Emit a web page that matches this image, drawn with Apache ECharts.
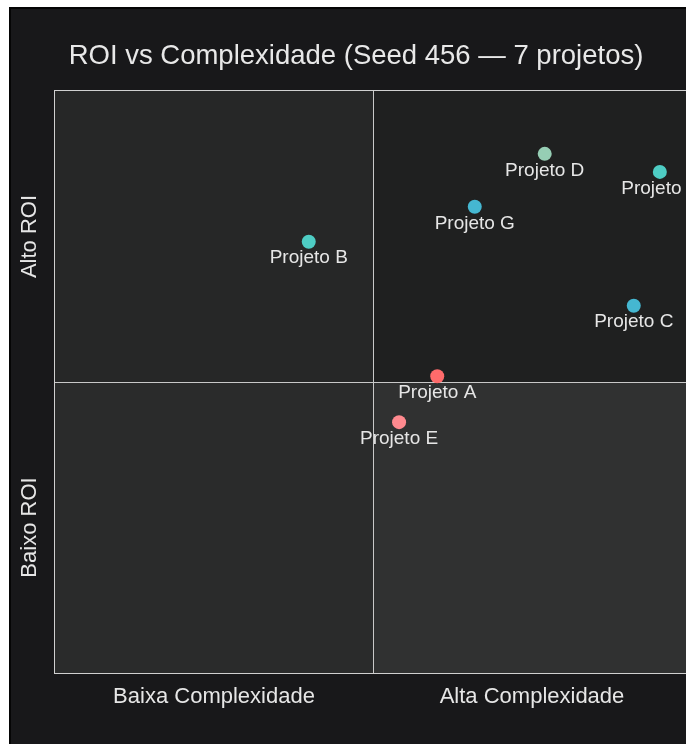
<!DOCTYPE html>
<html>
<head>
<meta charset="utf-8">
<script src="https://cdn.jsdelivr.net/npm/echarts@6/dist/echarts.min.js"></script>
<style>
  html, body { margin: 0; padding: 0; background: #fff; overflow: hidden; }
  #frame { position: absolute; left: 9px; top: 7px; width: 700px; height: 760px;
           border-left: 2px solid #050505; border-top: 2px solid #050505; background: #18181a; }
  #main { position: absolute; left: 0; top: 0; width: 700px; height: 760px; }
</style>
</head>
<body>
<div id="frame"><div id="main"></div></div>
<script>
var projects = ["Projeto A", "Projeto B", "Projeto C", "Projeto D", "Projeto E", "Projeto F", "Projeto G"];
var complexity = [6.01, 3.99, 9.10, 7.70, 5.41, 9.51, 6.60];
var roi = [5.10, 7.41, 6.31, 8.92, 4.31, 8.61, 8.01];
var pointColors = ["#ff6b6b", "#4ecdc4", "#45b7d1", "#96ceb4", "#ff8a8f", "#4ecdc4", "#45b7d1"];
var xLabels = ["Baixa Complexidade", "Alta Complexidade"];
var yLabels = ["Baixo ROI", "Alto ROI"];
var axisMin = 0, axisMax = 10, mid = 5;

var chartDom = document.getElementById('main');
var myChart = echarts.init(chartDom);
var option;

var points = projects.map(function (name, i) {
  return { name: name, value: [complexity[i], roi[i]], itemStyle: { color: pointColors[i], opacity: 1 } };
});

option = {
  backgroundColor: '#18181a',
  animation: false,
  title: {
    text: 'ROI vs Complexidade (Seed 456 — 7 projetos)',
    left: 340,
    textAlign: 'center',
    top: 28,
    textStyle: { color: '#e8e8e8', fontSize: 27.5, fontWeight: 'normal', fontFamily: 'Liberation Sans' }
  },
  grid: {
    left: 44,
    top: 82,
    width: 636,
    height: 582,
    show: true,
    borderColor: '#d0d0d0',
    borderWidth: 2,
    backgroundColor: 'transparent'
  },
  xAxis: {
    type: 'value',
    min: axisMin,
    max: axisMax,
    splitLine: { show: false },
    axisLine: { show: false },
    axisTick: { show: false },
    axisLabel: {
      customValues: [2.5, 7.5],
      formatter: function (v) { return v < mid ? xLabels[0] : xLabels[1]; },
      color: '#e6e6e6',
      fontSize: 22,
      fontFamily: 'Liberation Sans',
      margin: 13
    }
  },
  yAxis: {
    type: 'value',
    min: axisMin,
    max: axisMax,
    splitLine: { show: false },
    axisLine: { show: false },
    axisTick: { show: false },
    axisLabel: {
      customValues: [2.5, 7.5],
      formatter: function (v) { return v < mid ? yLabels[0] : yLabels[1]; },
      color: '#e6e6e6',
      fontSize: 22,
      fontFamily: 'Liberation Sans',
      rotate: 90,
      margin: 14
    }
  },
  series: [
    {
      type: 'scatter',
      data: [],
      silent: true,
      z: 1,
      markArea: {
        silent: true,
        data: [
          [{ xAxis: axisMin, yAxis: mid, itemStyle: { color: '#262727', opacity: 1 } }, { xAxis: mid, yAxis: axisMax }],
          [{ xAxis: mid, yAxis: mid, itemStyle: { color: '#1f2020', opacity: 1 } }, { xAxis: axisMax, yAxis: axisMax }],
          [{ xAxis: axisMin, yAxis: axisMin, itemStyle: { color: '#2a2b2b', opacity: 1 } }, { xAxis: mid, yAxis: mid }],
          [{ xAxis: mid, yAxis: axisMin, itemStyle: { color: '#303131', opacity: 1 } }, { xAxis: axisMax, yAxis: mid }]
        ]
      },
      markLine: {
        silent: true,
        symbol: 'none',
        label: { show: false },
        lineStyle: { color: '#c8c8c8', width: 1, type: 'solid', opacity: 1 },
        data: [{ xAxis: mid }, { yAxis: mid }]
      }
    },
    {
      type: 'scatter',
      symbolSize: 14,
      data: points,
      z: 5,
      label: {
        show: true,
        position: 'bottom',
        distance: 0,
        formatter: '{b}',
        color: '#e6e6e6',
        fontSize: 19,
        fontFamily: 'Liberation Sans'
      }
    }
  ]
};

option && myChart.setOption(option);
window.addEventListener("resize", function() {
  myChart.resize();
});
</script>
</body>
</html>
